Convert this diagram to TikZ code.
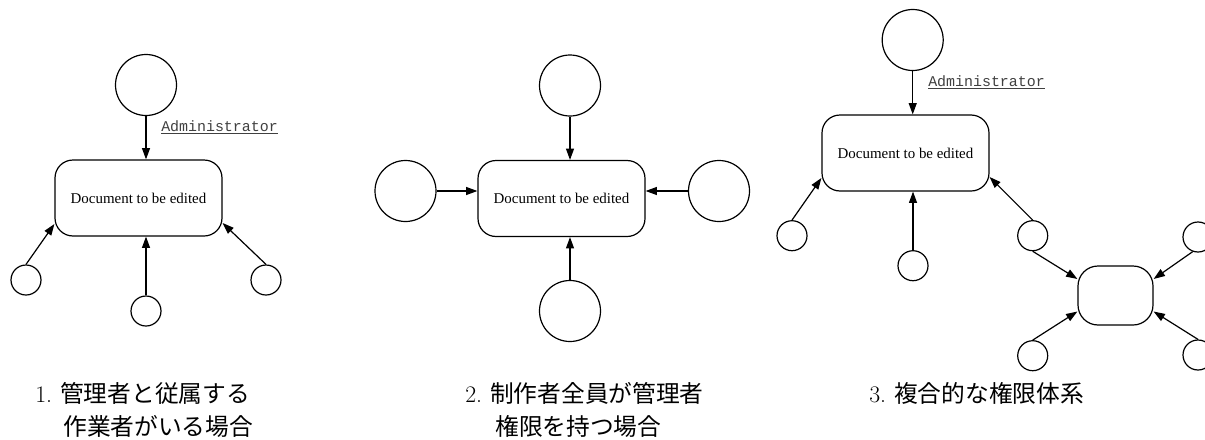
\documentclass[tikz,border=0pt]{standalone}
\usepackage{fontspec}
\newfontfamily\jp{Noto Sans CJK JP}
\newfontfamily\tnr{Liberation Serif}
\newfontfamily\cour{Liberation Mono}
\usetikzlibrary{arrows.meta,calc}
\begin{document}
\begin{tikzpicture}[x=0.75pt,y=-0.75pt,
  big/.style={circle,draw,line width=0.9pt,minimum size=45.75pt,inner sep=0},
  small/.style={circle,draw,line width=0.9pt,minimum size=22.5pt,inner sep=0},
  doc/.style={rectangle,rounded corners=13.5pt,draw,line width=0.9pt,minimum width=125.25pt,minimum height=57pt,inner sep=0,font=\tnr\fontsize{11.2}{13}\selectfont},
  subdoc/.style={rectangle,rounded corners=15pt,draw,line width=0.9pt,minimum width=56.25pt,minimum height=44.25pt,inner sep=0},
  arr/.style={-{Triangle[length=8.5pt,width=6pt]},line width=0.9pt},
  admin/.style={anchor=base west,inner sep=0,font=\cour\fontsize{11.2}{13}\selectfont,text=black!75},
  captext/.style={anchor=base west,inner sep=0,font=\fontsize{17.8}{20}\selectfont}]
\useasboundingbox (0,0) rectangle (1205,439);

% ---------- diagram 1 ----------
\node[doc] (B1) at (138.5,198) {Document to be edited};
\node[big] (T1) at (146,85) {};
\node[small] (L1) at (26,280) {};
\node[small] (M1) at (146,311) {};
\node[small] (R1) at (266,280) {};
\draw[arr] (T1.south) -- (T1.south |- B1.north);
\draw[arr] (L1.north) -- ($(B1.west)+(0,26)$);
\draw[arr] (M1.north) -- (M1.north |- B1.south);
\draw[arr] (R1.north) -- ($(B1.east)+(0,25)$);
\node[admin] (A1) at (161,131.5) {\underline{Administrator}};

% ---------- diagram 2 ----------
\node[doc] (B2) at (561.5,198.5) {Document to be edited};
\node[big] (T2) at (570,85.5) {};
\node[big] (L2) at (405.5,191) {};
\node[big] (R2) at (719,191) {};
\node[big] (D2) at (570,311) {};
\draw[arr] (T2.south) -- (T2.south |- B2.north);
\draw[arr] (L2.east) -- (L2.east -| B2.west);
\draw[arr] (R2.west) -- (R2.west -| B2.east);
\draw[arr] (D2.north) -- (D2.north |- B2.south);

% ---------- diagram 3 ----------
\node[doc] (B3) at (905.5,153) {Document to be edited};
\node[big] (T3) at (912.7,40) {};
\node[small] (L3) at (792,235.7) {};
\node[small] (M3) at (913,265.7) {};
\node[small] (R3) at (1032.7,235.7) {};
\node[subdoc] (S3) at (1115.5,295.5) {};
\node[small] (SL3) at (1032.7,355.7) {};
\node[small] (RT3) at (1198,237) {};
\node[small] (RB3) at (1198,355) {};
\draw[arr] (T3.south) -- (T3.south |- B3.north);
\draw[arr] (L3.north) -- ($(B3.west)+(0,25)$);
\draw[arr] (M3.north) -- (M3.north |- B3.south);
\draw[arr] (R3.north) -- ($(B3.east)+(0,24)$);
\draw[arr] (R3.south) -- ($(S3.west)+(0,-16.5)$);
\draw[arr] (SL3.north) -- ($(S3.west)+(0,16)$);
\draw[arr] (RT3.250) -- ($(S3.east)+(0,-16.5)$);
\draw[arr] (RB3.north) -- ($(S3.east)+(0,16)$);
\node[admin] (A3) at (928,86) {\underline{Administrator}};

% ---------- captions ----------
\node[captext] (C1a) at (35,402) {1.\hspace{6pt}{\jp 管理者と従属する}};
\node[captext] (C1b) at (63,435) {\jp 作業者がいる場合};
\node[captext] (C2a) at (465,402) {2.\hspace{6pt}{\jp 制作者全員が管理者}};
\node[captext] (C2b) at (495,435) {\jp 権限を持つ場合};
\node[captext] (C3a) at (869,402) {3.\hspace{6pt}{\jp 複合的な権限体系}};
\end{tikzpicture}
\end{document}
